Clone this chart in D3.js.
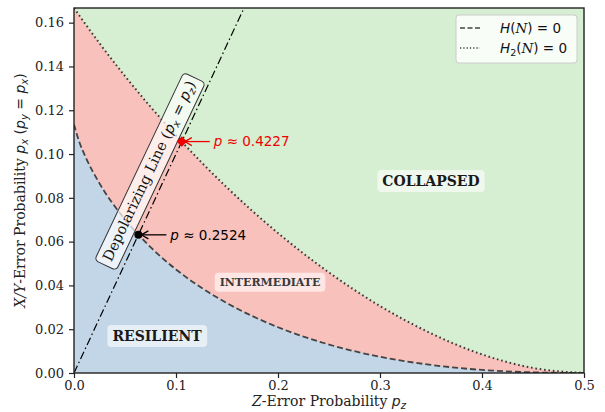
<!DOCTYPE html>
<html><head><meta charset="utf-8">
<script src="https://cdn.jsdelivr.net/npm/d3@7"></script>
<style>body{margin:0;background:#fff}svg{display:block}</style>
</head><body><svg id="c" width="605" height="412"></svg>
<script>
// ---- data ----
const pz = [0, 0.005, 0.0125, 0.025, 0.05, 0.075, 0.1, 0.125, 0.15, 0.2, 0.25, 0.3, 0.35, 0.4, 0.45, 0.5];
const hashingPx = [0.1135, 0.1058, 0.0975, 0.0866, 0.0701, 0.0575, 0.0473, 0.0389, 0.0319, 0.0209, 0.0130, 0.0074, 0.0037, 0.0014, 0.0003, 0];
const renyiPx   = [0.1667, 0.1634, 0.1585, 0.1506, 0.1356, 0.1216, 0.1085, 0.0962, 0.0847, 0.0639, 0.0459, 0.0306, 0.0181, 0.0085, 0.0023, 0];
const depolLine = [[0, 0], [0.1667, 0.1667]];
const hashPoint = {pz: 0.0631, px: 0.0631, label: "0.2524"};
const renyiPoint = {pz: 0.1057, px: 0.1057, label: "0.4227"};
const xTicks = [0.0, 0.1, 0.2, 0.3, 0.4, 0.5];
const yTicks = [0.00, 0.02, 0.04, 0.06, 0.08, 0.10, 0.12, 0.14, 0.16];
const xDomain = [0, 0.5];
const yDomain = [0, 0.1667];

const svg = d3.select("#c");
const L = 74, R = 584, T = 8, B = 373;
const x = d3.scaleLinear().domain(xDomain).range([L, R]);
const y = d3.scaleLinear().domain(yDomain).range([B, T]);
const SERIF = "'DejaVu Serif', serif", SANS = "'DejaVu Sans', sans-serif";

const pts = pz.map((z, i) => ({z, h: hashingPx[i], r: renyiPx[i]}));
svg.append("defs").append("clipPath").attr("id", "clip")
  .append("rect").attr("x", L).attr("y", T).attr("width", R - L).attr("height", B - T);
const g = svg.append("g").attr("clip-path", "url(#clip)");

// regions
g.append("rect").attr("x", L).attr("y", T).attr("width", R - L).attr("height", B - T).attr("fill", "#d6eed1");
g.append("path").datum(pts).attr("fill", "#f9c1bb")
  .attr("d", d3.area().x(d => x(d.z)).y0(y(0)).y1(d => y(d.r)).curve(d3.curveMonotoneX));
g.append("path").datum(pts).attr("fill", "#c2d6e8")
  .attr("d", d3.area().x(d => x(d.z)).y0(y(0)).y1(d => y(d.h)).curve(d3.curveMonotoneX));

// boundary curves
g.append("path").datum(pts).attr("fill", "none").attr("stroke", "#444").attr("stroke-width", 1.8)
  .attr("stroke-dasharray", "6,3")
  .attr("d", d3.line().x(d => x(d.z)).y(d => y(d.h)).curve(d3.curveMonotoneX));
g.append("path").datum(pts).attr("fill", "none").attr("stroke", "#3a3a3a").attr("stroke-width", 2)
  .attr("stroke-dasharray", "1.6,2.8")
  .attr("d", d3.line().x(d => x(d.z)).y(d => y(d.r)).curve(d3.curveMonotoneX));

// depolarizing line
g.append("path").datum(depolLine).attr("fill", "none").attr("stroke", "#000").attr("stroke-width", 1.2)
  .attr("stroke-dasharray", "8,3,1.5,3")
  .attr("d", d3.line().x(d => x(d[0])).y(d => y(d[1])));

// axes
const xAxis = svg.append("g").attr("transform", `translate(0,${B})`)
  .call(d3.axisBottom(x).tickValues(xTicks).tickFormat(d3.format(".1f")).tickSize(5).tickSizeOuter(0));
const yAxis = svg.append("g").attr("transform", `translate(${L},0)`)
  .call(d3.axisLeft(y).tickValues(yTicks).tickFormat(d3.format(".2f")).tickSize(5).tickSizeOuter(0));
[xAxis, yAxis].forEach(a => {
  a.select(".domain").remove();
  a.selectAll("line").attr("stroke", "#222").attr("stroke-width", 1.2);
  a.selectAll("text").attr("font-family", SERIF).attr("font-size", 13).attr("fill", "#222");
});
yAxis.selectAll("text").attr("dx", "-0.15em");
svg.append("rect").attr("x", L).attr("y", T).attr("width", R - L).attr("height", B - T)
  .attr("fill", "none").attr("stroke", "#222").attr("stroke-width", 1.4);

// axis labels
const xl = svg.append("text").attr("x", (L + R) / 2).attr("y", 406).attr("text-anchor", "middle")
  .attr("font-family", SERIF).attr("font-size", 14).attr("fill", "#222");
xl.append("tspan").attr("font-style", "italic").text("Z");
xl.append("tspan").text("-Error Probability ");
xl.append("tspan").attr("font-family", SANS).attr("font-style", "italic").text("p");
xl.append("tspan").attr("font-family", SANS).attr("font-style", "italic").attr("font-size", 10).attr("dy", 2.5).text("z");

const yl = svg.append("text").attr("transform", `translate(25,${(T + B) / 2}) rotate(-90)`).attr("text-anchor", "middle")
  .attr("font-family", SERIF).attr("font-size", 14).attr("fill", "#222");
yl.append("tspan").attr("font-style", "italic").text("X/Y");
yl.append("tspan").text("-Error Probability ");
const mathSub = (t, base, sub, after) => {
  t.append("tspan").attr("font-family", SANS).attr("font-style", "italic").text(base);
  t.append("tspan").attr("font-family", SANS).attr("font-style", "italic").attr("font-size", 10).attr("dy", 3).text(sub);
  t.append("tspan").attr("font-family", SANS).attr("dy", -3).text(after);
};
mathSub(yl, "p", "x", " (");
mathSub(yl, "p", "y", " = ");
mathSub(yl, "p", "x", ")");

// labelled boxes helper
function boxed(textSel, opts) {
  const bb = textSel.node().getBBox();
  const p = opts.pad;
  const rect = document.createElementNS("http://www.w3.org/2000/svg", "rect");
  textSel.node().parentNode.insertBefore(rect, textSel.node());
  return d3.select(rect)
    .attr("x", bb.x - p).attr("y", bb.y - p * 0.6).attr("width", bb.width + 2 * p).attr("height", bb.height + 1.2 * p)
    .attr("rx", 4).attr("fill", "#fff").attr("fill-opacity", opts.alpha)
    .attr("stroke", opts.stroke || "none").attr("stroke-width", 1);
}

// region labels
function region(label, cx, cy, size, color) {
  const gg = svg.append("g");
  const t = gg.append("text").attr("x", cx).attr("y", cy).attr("text-anchor", "middle").attr("dy", "0.35em")
    .attr("font-family", SERIF).attr("font-weight", "bold").attr("font-size", size).attr("fill", color).text(label);
  boxed(t, {pad: 5, alpha: 0.6});
}
region("RESILIENT", 157, 336, 14, "#1a1a1a");
region("INTERMEDIATE", 270, 282, 11, "#3a3a3a");
region("COLLAPSED", 431, 181, 14, "#1a1a1a");

// depolarizing line label
const dl = svg.append("g").attr("transform", "translate(149,171) rotate(-64.6)");
const dt = dl.append("text").attr("x", 0).attr("y", 0).attr("text-anchor", "middle").attr("dy", "0.35em")
  .attr("font-family", SERIF).attr("font-size", 14.5).attr("fill", "#111");
dt.append("tspan").text("Depolarizing Line (");
dt.append("tspan").attr("font-family", SANS).attr("font-style", "italic").text("p");
dt.append("tspan").attr("font-family", SANS).attr("font-style", "italic").attr("font-size", 10).attr("dy", 3).text("x");
dt.append("tspan").attr("font-family", SANS).attr("dy", -3).text(" = ");
dt.append("tspan").attr("font-family", SANS).attr("font-style", "italic").text("p");
dt.append("tspan").attr("font-family", SANS).attr("font-style", "italic").attr("font-size", 10).attr("dy", 3).text("z");
dt.append("tspan").attr("dy", -3).text(")");
boxed(dt, {pad: 5, alpha: 0.7, stroke: "#333"});

// threshold points + annotations
function annot(pt, color, marker) {
  const px = x(pt.pz), py = y(pt.px);
  const tx = px + 32;
  svg.append("line").attr("x1", tx - 4).attr("y1", py).attr("x2", px + 3).attr("y2", py)
    .attr("stroke", color).attr("stroke-width", 1.3);
  svg.append("path").attr("d", `M${px + 10},${py - 4} L${px + 3},${py} L${px + 10},${py + 4}`)
    .attr("fill", "none").attr("stroke", color).attr("stroke-width", 1.3);
  if (marker === "diamond") {
    svg.append("path").attr("d", d3.symbol(d3.symbolDiamond2, 70)()).attr("transform", `translate(${px},${py})`)
      .attr("fill", color);
  } else {
    svg.append("circle").attr("cx", px).attr("cy", py).attr("r", 4).attr("fill", color);
  }
  const t = svg.append("text").attr("x", tx).attr("y", py).attr("dy", "0.35em")
    .attr("font-family", SANS).attr("font-size", 13.5).attr("fill", color);
  t.append("tspan").attr("font-style", "italic").text("p");
  t.append("tspan").text(" \u2248 " + pt.label);
}
annot(hashPoint, "#000", "circle");
annot(renyiPoint, "#e00", "diamond");

// legend
const lg = svg.append("g");
lg.append("rect").attr("x", 456).attr("y", 15).attr("width", 121).attr("height", 48).attr("rx", 3)
  .attr("fill", "#fff").attr("fill-opacity", 0.85).attr("stroke", "#ccc").attr("stroke-width", 1);
const entries = [{dash: "5,2.5", sub: "", y: 28}, {dash: "1.3,2", sub: "2", y: 48}];
entries.forEach(e => {
  lg.append("line").attr("x1", 460).attr("x2", 480).attr("y1", e.y).attr("y2", e.y)
    .attr("stroke", "#444").attr("stroke-width", 1.6).attr("stroke-dasharray", e.dash);
  const t = lg.append("text").attr("x", 500).attr("y", e.y).attr("dy", "0.35em")
    .attr("font-family", SANS).attr("font-size", 13.5).attr("fill", "#111");
  t.append("tspan").attr("font-style", "italic").text("H");
  if (e.sub) { t.append("tspan").attr("font-size", 9.5).attr("dy", 3).text(e.sub); t.append("tspan").attr("dy", -3).text("("); }
  else t.append("tspan").text("(");
  t.append("tspan").attr("font-family", SERIF).attr("font-style", "italic").text("N");
  t.append("tspan").text(") = 0");
});
</script></body></html>
